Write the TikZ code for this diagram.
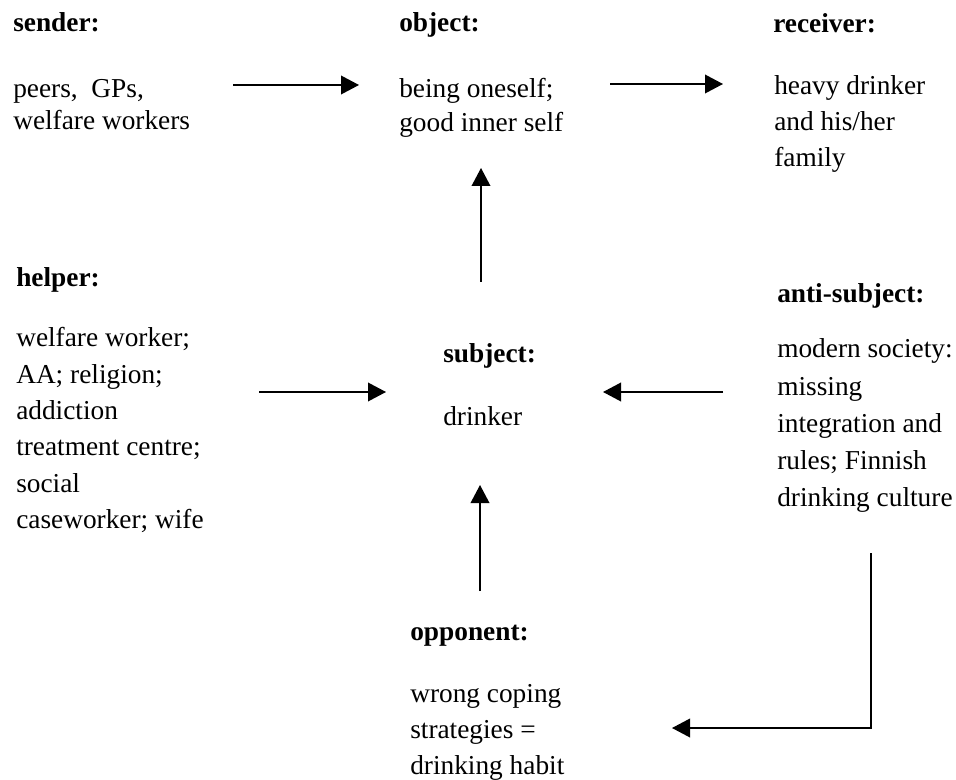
\documentclass[tikz,border=0pt]{standalone}
\usepackage{fontspec}
\setmainfont{Liberation Serif}
\usetikzlibrary{arrows.meta}

\begin{document}
\begin{tikzpicture}[x=0.75pt,y=-0.75pt,
title/.style={anchor=base west,inner sep=0pt,font=\fontsize{20.5pt}{24pt}\selectfont\bfseries},
body/.style={anchor=base west,inner sep=0pt,font=\fontsize{20.5pt}{#1}\selectfont},
body/.default=27.2pt,
edge/.style={-{Triangle[length=13.5pt,width=14pt]},line width=1.1pt}]

\useasboundingbox (0,0) rectangle (956,780);

% top row
\node[title] (SENDER) at (13,32) {sender:};
\node[body=24pt] (SENDERTXT) at (13,98) {\begin{tabular}[t]{@{}l@{}}
peers,\ \ GPs, \\
welfare workers
\end{tabular}};

\node[title] (OBJECT) at (399,32) {object:};
\node[body=24.8pt] (OBJECTTXT) at (399,98) {\begin{tabular}[t]{@{}l@{}}
being oneself; \\
good inner self
\end{tabular}};

\node[title] (RECEIVER) at (773,33) {receiver:};
\node[body=27pt] (RECEIVERTXT) at (774,95) {\begin{tabular}[t]{@{}l@{}}
heavy drinker \\
and his/her \\
family
\end{tabular}};

% middle row
\node[title] (HELPER) at (16,287) {helper:};
\node[body] (HELPERTXT) at (16,347) {\begin{tabular}[t]{@{}l@{}}
welfare worker; \\
AA; religion; \\
addiction \\
treatment centre; \\
social \\
caseworker; wife
\end{tabular}};

\node[title] (SUBJECT) at (443,363) {subject:};
\node[body] (SUBJECTTXT) at (443,425) {drinker};

\node[title] (ANTI) at (777,303) {anti-subject:};
\node[body=27.8pt] (ANTITXT) at (777,358) {\begin{tabular}[t]{@{}l@{}}
modern society: \\
missing \\
integration and \\
rules; Finnish \\
drinking culture
\end{tabular}};

% bottom
\node[title] (OPPONENT) at (410,640) {opponent:};
\node[body] (OPPONENTTXT) at (410,702) {\begin{tabular}[t]{@{}l@{}}
wrong coping \\
strategies = \\
drinking habit
\end{tabular}};

% arrow ends
\coordinate (snd-a) at (233,85);  \coordinate (snd-b) at (359,85);
\coordinate (obj-a) at (610,84);  \coordinate (obj-b) at (723,84);
\coordinate (sub-a) at (481,282); \coordinate (sub-b) at (481,168);
\coordinate (hlp-a) at (259,392); \coordinate (hlp-b) at (386,392);
\coordinate (ant-a) at (723,392); \coordinate (ant-b) at (603,392);
\coordinate (opp-a) at (480,591); \coordinate (opp-b) at (480,485);
\coordinate (ant-c) at (871,553); \coordinate (opp-c) at (672,728);

\draw[edge] (snd-a) -- (snd-b);
\draw[edge] (obj-a) -- (obj-b);
\draw[edge] (sub-a) -- (sub-b);
\draw[edge] (hlp-a) -- (hlp-b);
\draw[edge] (ant-a) -- (ant-b);
\draw[edge] (opp-a) -- (opp-b);
\draw[edge] (ant-c) |- (opp-c);

\end{tikzpicture}
\end{document}
